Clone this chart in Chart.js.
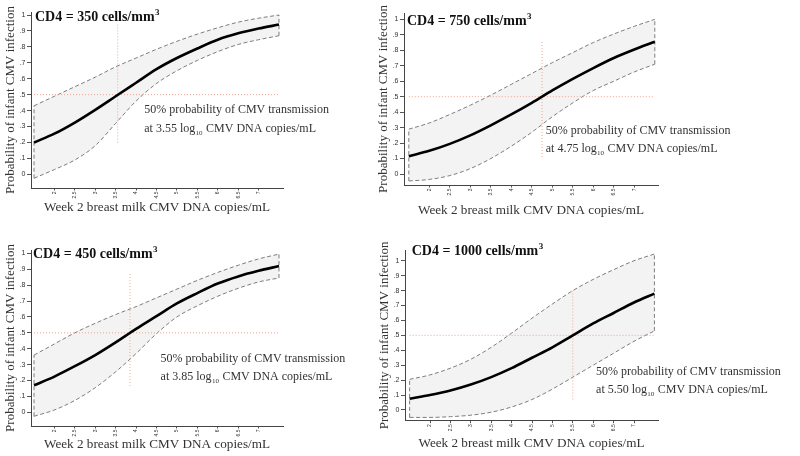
<!DOCTYPE html>
<html>
<head>
<meta charset="utf-8">
<script src="https://cdn.jsdelivr.net/npm/chart.js@4.4.1/dist/chart.umd.min.js"></script>
<style>
  html, body { margin: 0; padding: 0; background: #fff; }
  #wrap { position: relative; width: 800px; height: 456px; overflow: hidden; }
  #wrap canvas { position: absolute; }
</style>
</head>
<body>
<div id="wrap">
  <canvas id="cd4-350"></canvas>
  <canvas id="cd4-750"></canvas>
  <canvas id="cd4-450"></canvas>
  <canvas id="cd4-1000"></canvas>
</div>
<script>
/* -------- Daten -------- */
const cmvLoad = [1.5, 2, 2.5, 3, 3.5, 4, 4.5, 5, 5.5, 6, 6.5, 7, 7.5];   // log10 copies/mL
const xTicks = [2, 2.5, 3, 3.5, 4, 4.5, 5, 5.5, 6, 6.5, 7];
const yTicks = [0, 0.1, 0.2, 0.3, 0.4, 0.5, 0.6, 0.7, 0.8, 0.9, 1];

const cd4Levels = [350, 750, 450, 1000];
const halfPoint = [3.55, 4.75, 3.85, 5.50];       // 50% transmission
const refTop = [0.94, 0.86, 0.87, 0.80];          // vertical guide, upper end
const refBottom = [0.20, 0.11, 0.165, 0.07];      // vertical guide, lower end

const prob350 = [0.20, 0.255, 0.325, 0.405, 0.49, 0.575, 0.66, 0.73, 0.79, 0.845, 0.885, 0.915, 0.94];
const upper350 = [0.43, 0.49, 0.55, 0.61, 0.675, 0.73, 0.785, 0.835, 0.88, 0.92, 0.955, 0.98, 1.0];
const lower350 = [-0.025, 0.03, 0.09, 0.18, 0.32, 0.46, 0.57, 0.65, 0.715, 0.77, 0.815, 0.845, 0.87];

const prob750 = [0.115, 0.15, 0.195, 0.25, 0.315, 0.385, 0.46, 0.54, 0.615, 0.685, 0.75, 0.805, 0.855];
const upper750 = [0.29, 0.33, 0.385, 0.445, 0.51, 0.58, 0.65, 0.72, 0.785, 0.85, 0.905, 0.955, 1.0];
const lower750 = [-0.045, -0.035, -0.01, 0.035, 0.1, 0.18, 0.27, 0.37, 0.46, 0.54, 0.6, 0.66, 0.71];

const prob450 = [0.17, 0.225, 0.29, 0.36, 0.44, 0.525, 0.605, 0.685, 0.75, 0.81, 0.855, 0.89, 0.92];
const upper450 = [0.36, 0.43, 0.5, 0.56, 0.615, 0.665, 0.72, 0.775, 0.83, 0.88, 0.925, 0.965, 0.995];
const lower450 = [-0.025, 0.015, 0.075, 0.155, 0.255, 0.37, 0.495, 0.6, 0.67, 0.73, 0.78, 0.82, 0.845];

const prob1000 = [0.075, 0.1, 0.13, 0.17, 0.22, 0.28, 0.35, 0.42, 0.5, 0.58, 0.65, 0.72, 0.78];
const upper1000 = [0.205, 0.235, 0.28, 0.34, 0.42, 0.515, 0.615, 0.71, 0.8, 0.875, 0.94, 1.0, 1.045];
const lower1000 = [-0.05, -0.05, -0.045, -0.035, -0.015, 0.02, 0.07, 0.14, 0.22, 0.3, 0.38, 0.46, 0.53];

const probs = [prob350, prob750, prob450, prob1000];
const uppers = [upper350, upper750, upper450, upper1000];
const lowers = [lower350, lower750, lower450, lower1000];

/* -------- Layout je Panel -------- */
// box: Canvas-Position, axis: Achsenrahmen (Seitenpixel)
const panels = [
  { id: "cd4-350", box: [0, 0, 400, 226], axis: { left: 31, top: 12, right: 283, bottom: 188 },
    x: [1.4265, 7.598], y: [-0.086, 1.019], xTitlePad: 11, title: [4, 9], note: [0.65, 0.385, 0.267] },
  { id: "cd4-750", box: [373, 0, 427, 226], axis: { left: 404, top: 13, right: 658, bottom: 185 },
    x: [1.383, 7.578], y: [-0.071, 1.041], xTitlePad: 7.2, title: [3, 12], note: [0.09, 0.257, 0.144] },
  { id: "cd4-450", box: [0, 228, 400, 228], axis: { left: 31, top: 250, right: 283, bottom: 426 },
    x: [1.4265, 7.598], y: [-0.086, 1.021], xTitlePad: 3.4, title: [2, 8], note: [0.75, 0.318, 0.203] },
  { id: "cd4-1000", box: [374, 228, 426, 228], axis: { left: 405, top: 250, right: 658, bottom: 420.7 },
    x: [1.387, 7.588], y: [-0.072, 1.072], xTitlePad: 4.4, title: [6.7, 5], note: [0.57, 0.234, 0.116] }
];

const SERIF = '"Liberation Serif", "Times New Roman", serif';
const SANS = '"Liberation Sans", Arial, sans-serif';

/* -------- Texte im Plot -------- */
const panelText = {
  id: "panelText",
  afterDraw(chart, args, opts) {
    const { ctx, chartArea } = chart;
    const xs = chart.scales.x, ys = chart.scales.y;
    ctx.save();
    ctx.textAlign = "left";
    ctx.textBaseline = "alphabetic";

    // Überschrift CD4 = ... cells/mm³
    const tx = chartArea.left + opts.title[0];
    const ty = chartArea.top + opts.title[1];
    const head = "CD4 = " + opts.cd4 + " cells/mm";
    ctx.fillStyle = "#111";
    ctx.font = "bold 14px " + SERIF;
    ctx.fillText(head, tx, ty);
    const hw = ctx.measureText(head).width;
    ctx.font = "bold 9px " + SERIF;
    ctx.fillText("3", tx + hw + 0.5, ty - 6);

    // Hinweis 50%
    const nx = xs.getPixelForValue(opts.x50 + opts.note[0]);
    const y1 = ys.getPixelForValue(opts.note[1]);
    const y2 = ys.getPixelForValue(opts.note[2]);
    ctx.fillStyle = "#333";
    ctx.font = "12px " + SERIF;
    ctx.fillText("50% probability of CMV transmission", nx, y1);
    let part = "at " + opts.x50.toFixed(2) + " log";
    ctx.fillText(part, nx, y2);
    let px = nx + ctx.measureText(part).width;
    ctx.font = "7px " + SERIF;
    ctx.fillText("10", px + 0.3, y2 + 3);
    px += ctx.measureText("10").width + 0.8;
    ctx.font = "12px " + SERIF;
    ctx.fillText(" CMV DNA copies/mL", px, y2);
    ctx.restore();
  }
};

function pts(xs, ys) {
  return xs.map((x, i) => ({ x, y: ys[i] }));
}

/* -------- Charts -------- */
panels.forEach((p, k) => {
  const cv = document.getElementById(p.id);
  const [bl, bt, bw, bh] = p.box;
  cv.width = bw; cv.height = bh;
  cv.style.left = bl + "px"; cv.style.top = bt + "px";
  cv.style.width = bw + "px"; cv.style.height = bh + "px";

  const yAxisW = p.axis.left - bl;
  const xAxisH = bt + bh - p.axis.bottom;
  const mid = probs[k], hi = uppers[k], lo = lowers[k];
  const first = cmvLoad[0], last = cmvLoad[cmvLoad.length - 1];
  const n = cmvLoad.length - 1;

  const dash = { borderColor: "#6f6f6f", borderWidth: 0.9, borderDash: [4, 2.5], pointRadius: 0, showLine: true, fill: false };
  const guide = { borderColor: "#f0a58a", borderWidth: 1, borderDash: [1, 2], pointRadius: 0, showLine: true, fill: false, order: 1 };

  new Chart(cv.getContext("2d"), {
    type: "scatter",
    data: {
      datasets: [
        { data: pts(cmvLoad, mid), borderColor: "#000", borderWidth: 2.6, pointRadius: 0, showLine: true,
          cubicInterpolationMode: "monotone", fill: false, order: 0 },
        { ...dash, data: pts(cmvLoad, hi), cubicInterpolationMode: "monotone", order: 3 },
        { ...dash, data: pts(cmvLoad, lo), cubicInterpolationMode: "monotone", order: 4,
          fill: "-1", backgroundColor: "#f3f3f3" },
        { ...dash, data: [{ x: first, y: lo[0] }, { x: first, y: hi[0] }], order: 2 },
        { ...dash, data: [{ x: last, y: lo[n] }, { x: last, y: hi[n] }], order: 2 },
        { ...guide, data: [{ x: first, y: 0.5 }, { x: last, y: 0.5 }] },
        { ...guide, data: [{ x: halfPoint[k], y: refBottom[k] }, { x: halfPoint[k], y: refTop[k] }] }
      ]
    },
    options: {
      responsive: false,
      animation: false,
      devicePixelRatio: 1,
      layout: { padding: { left: 0, top: p.axis.top - bt, right: bl + bw - p.axis.right, bottom: 0 } },
      plugins: {
        legend: { display: false },
        tooltip: { enabled: false },
        panelText: { cd4: cd4Levels[k], x50: halfPoint[k], title: p.title, note: p.note }
      },
      scales: {
        x: {
          type: "linear", min: p.x[0], max: p.x[1],
          afterBuildTicks: s => { s.ticks = xTicks.map(v => ({ value: v })); },
          afterFit: s => { s.height = xAxisH; },
          ticks: { minRotation: 90, maxRotation: 90, autoSkip: false, padding: 1,
                   font: { family: SANS, size: 5 }, color: "#333", callback: v => String(v) },
          grid: { drawOnChartArea: false, drawTicks: true, tickLength: 2.5, color: "#555" },
          border: { display: true, color: "#444", width: 1 },
          title: { display: true, text: "Week 2 breast milk CMV DNA copies/mL", color: "#333",
                   font: { family: SERIF, size: 13.2 }, padding: { top: 0, bottom: p.xTitlePad } }
        },
        y: {
          type: "linear", min: p.y[0], max: p.y[1],
          afterBuildTicks: s => { s.ticks = yTicks.map(v => ({ value: v })); },
          afterFit: s => { s.width = yAxisW; },
          ticks: { padding: 1.5, font: { family: SANS, size: 7 }, color: "#333",
                   callback: v => (v === 0 ? "0" : v === 1 ? "1" : "." + Math.round(v * 10)) },
          grid: { drawOnChartArea: false, drawTicks: true, tickLength: 4, color: "#555" },
          border: { display: true, color: "#444", width: 1 },
          title: { display: true, text: "Probability of infant CMV infection", color: "#333",
                   font: { family: SERIF, size: 13 }, padding: { top: 2.7, bottom: 0 } }
        }
      }
    },
    plugins: [panelText]
  });
});
</script>
</body>
</html>
